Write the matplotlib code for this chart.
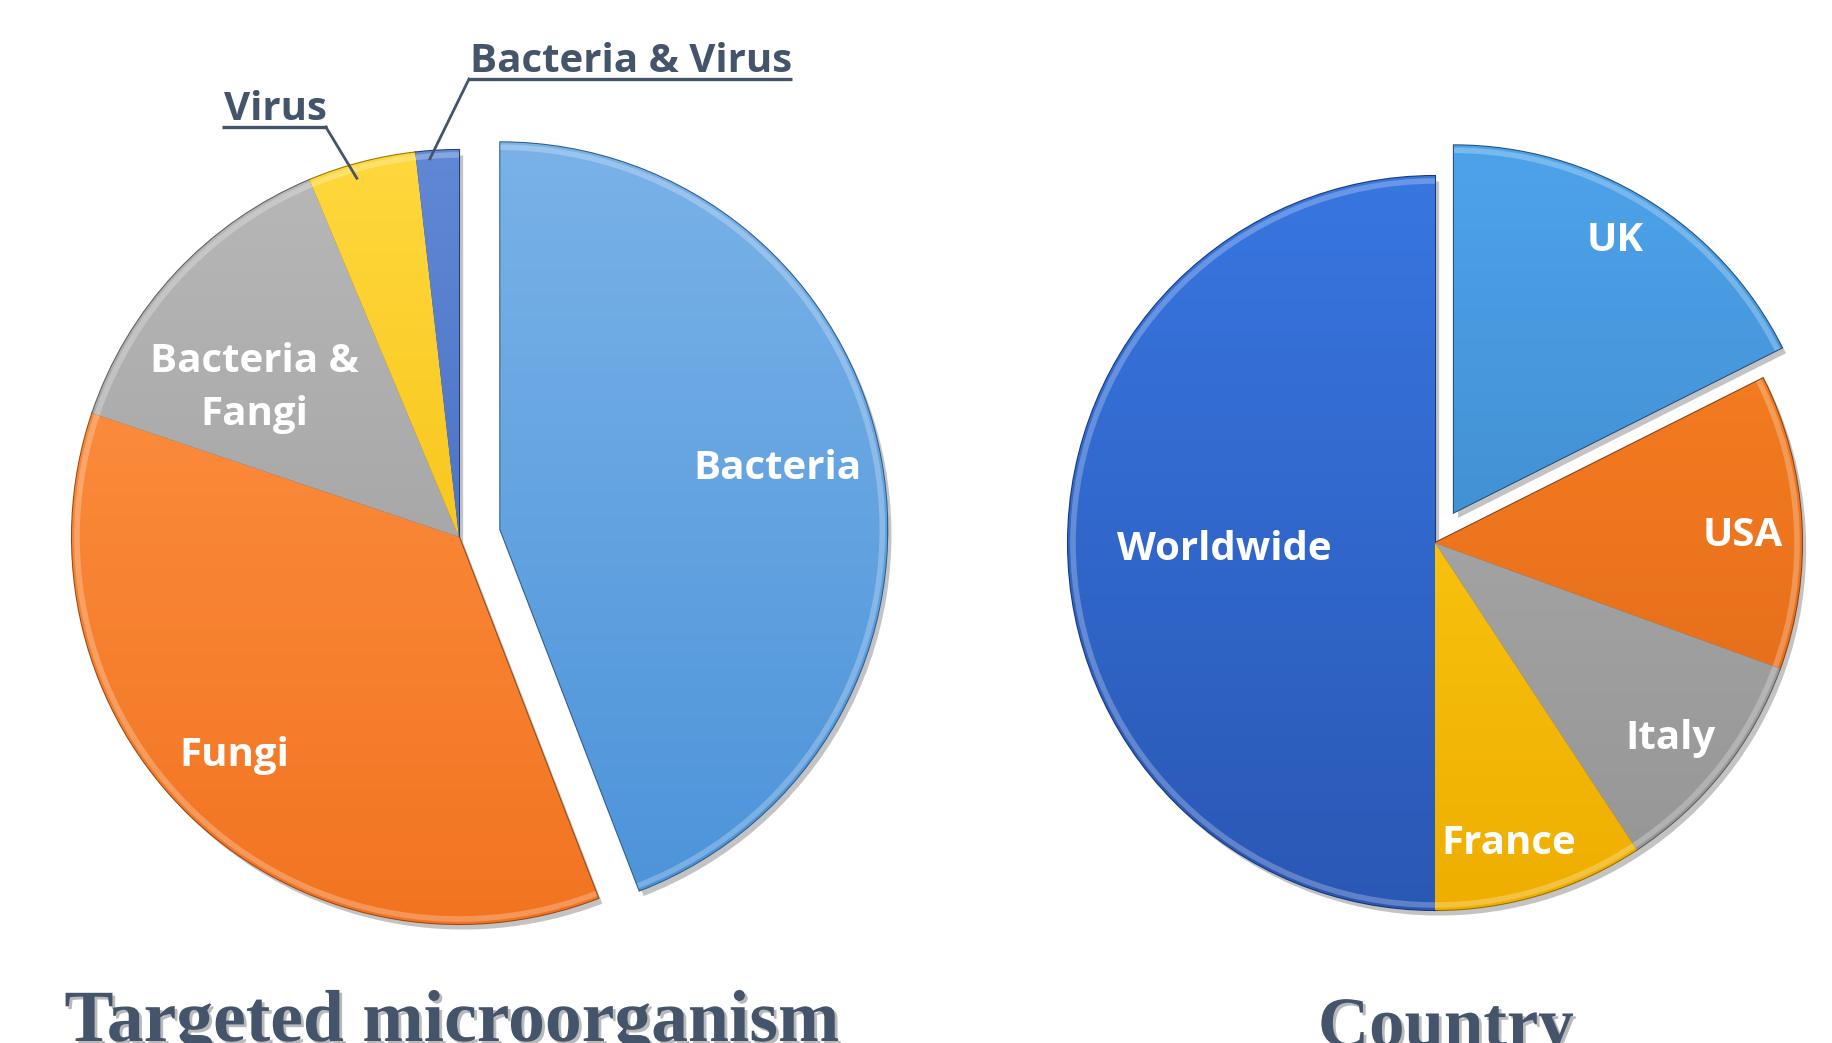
import numpy as np
import matplotlib.pyplot as plt
import matplotlib.patheffects as pe
from matplotlib.patches import Arc
from matplotlib.colors import LinearSegmentedColormap, to_rgb

# 数据
micro_labels = ['Bacteria', 'Fungi', 'Bacteria &\nFangi', 'Virus', 'Bacteria & Virus']
micro_values = [49, 40, 15, 5, 2]
country_labels = ['UK', 'USA', 'Italy', 'France', 'Worldwide']
country_values = [19, 14, 11, 10, 54]

# 颜色 (亮, 暗)
micro_colors = [('#7AB2E8', '#4B93D9'), ('#FF9648', '#F27421'), ('#B8B8B8', '#989898'),
                ('#FFD83D', '#F2B600'), ('#6188D6', '#3A60B5')]
country_colors = [('#4DA3EA', '#3A7FC0'), ('#FA8424', '#DF6618'), ('#B0B0B0', '#959595'),
                  ('#FFD51C', '#EFAE00'), ('#3876E0', '#2A58B5')]

W, H = 1833, 1043
fig = plt.figure(figsize=(W / 100, H / 100), dpi=100)
ax = fig.add_axes([0, 0, 1, 1])
ax.set_axis_off()

dark_text = '#44546A'
label_font = ['Open Sans', 'DejaVu Sans']


def shade(c, f):
    r, g, b = to_rgb(c)
    return (r * f, g * f, b * f)


def draw_pie(values, colors, center, radius, explode):
    # 注意: explode 在这里是绝对单位 (像素)
    wedges, _ = ax.pie(values, colors=[c[1] for c in colors], startangle=90, counterclock=False,
                       center=center, radius=radius, explode=explode, frame=True)
    for w, (light, dark) in zip(wedges, colors):
        w.set_edgecolor(shade(dark, 0.62))
        w.set_linewidth(1.5)
        w.set_path_effects([pe.SimplePatchShadow(offset=(3, -4), alpha=0.35, shadow_rgbFace='#555555'),
                            pe.Normal()])
        # 渐变填充
        cx, cy = w.center
        r = w.r
        cmap = LinearSegmentedColormap.from_list('g', [dark, light])
        grad = np.linspace(0, 1, 256).reshape(-1, 1)
        im = ax.imshow(grad, extent=[cx - r, cx + r, cy - r, cy + r], origin='lower',
                       cmap=cmap, aspect='auto', zorder=w.get_zorder() + 0.01)
        im.set_clip_path(w)
        # 外弧高光
        arc = Arc((cx, cy), 2 * (r - 5), 2 * (r - 5), theta1=w.theta1, theta2=w.theta2,
                  edgecolor=(1, 1, 1, 0.25), linewidth=4, zorder=w.get_zorder() + 0.02)
        ax.add_patch(arc)
        arc.set_clip_path(w)
    return wedges


left_wedges = draw_pie(micro_values, micro_colors, (459, 506), 387, [42, 0, 0, 0, 0])
right_wedges = draw_pie(country_values, country_colors, (1435, 500), 367, [36, 0, 0, 0, 0])

ax.set_xlim(0, W)
ax.set_ylim(0, H)
ax.set_aspect('equal')


def put_label(w, text, dist, dx=0, dy=0):
    ang = np.deg2rad((w.theta1 + w.theta2) / 2)
    cx, cy = w.center
    x = cx + dist * w.r * np.cos(ang) + dx
    y = cy + dist * w.r * np.sin(ang) + dy
    ax.text(x, y, text, ha='center', va='center', color='white', fontsize=29,
            fontweight='bold', family=label_font, linespacing=1.45, zorder=10)


put_label(left_wedges[0], micro_labels[0], 0.745, dx=-6, dy=8)
put_label(left_wedges[1], micro_labels[1], 0.84, dy=16)
put_label(left_wedges[2], micro_labels[2], 0.66, dx=-18, dy=-25)

put_label(right_wedges[0], country_labels[0], 0.87, dx=-6)
put_label(right_wedges[1], country_labels[1], 0.84, dy=-10)
put_label(right_wedges[2], country_labels[2], 0.83, dx=-3, dy=-7)
put_label(right_wedges[3], country_labels[3], 0.835, dx=-14, dy=-7)
put_label(right_wedges[4], country_labels[4], 0.58, dx=2, dy=-7)

# 外部标签 (带下划线和引线): 楔形, 文本, 文本位置, 引线端, 引线角度, 引线半径比例
outside = [(left_wedges[3], micro_labels[3], (224, H - 120), 'right', 105.9, 0.964),
           (left_wedges[4], micro_labels[4], (470, H - 72), 'left', 94.4, 0.98)]
fig.canvas.draw()
renderer = fig.canvas.get_renderer()
for w, text, (tx, ty), side, a, d in outside:
    t = ax.text(tx, ty, text, ha='left', va='baseline', color=dark_text, fontsize=29,
                fontweight='bold', family=label_font, zorder=10)
    bb = t.get_window_extent(renderer)
    uy = ty - 7
    ax.plot([bb.x0 - 2, bb.x1], [uy, uy], color=dark_text, lw=2.4, zorder=10,
            solid_capstyle='butt')
    ang = np.deg2rad(a)
    px = w.center[0] + d * w.r * np.cos(ang)
    py = w.center[1] + d * w.r * np.sin(ang)
    ex = bb.x1 - 1 if side == 'right' else bb.x0 - 1
    ax.plot([px, ex], [py, uy], color=dark_text, lw=2, zorder=10)

# 标题
title_kw = dict(color=dark_text, fontsize=53, fontweight='bold', family=['Liberation Serif', 'DejaVu Serif'],
                ha='center', va='baseline', zorder=10,
                path_effects=[pe.withSimplePatchShadow(offset=(2, -2), alpha=0.3)])
ax.text(452, H - 1041, 'Targeted microorganism', **title_kw)
ax.text(1446, H - 1046, 'Country', fontsize=51,
        **{k: v for k, v in title_kw.items() if k != 'fontsize'})

fig.savefig('out.png', dpi=100, facecolor='white')
